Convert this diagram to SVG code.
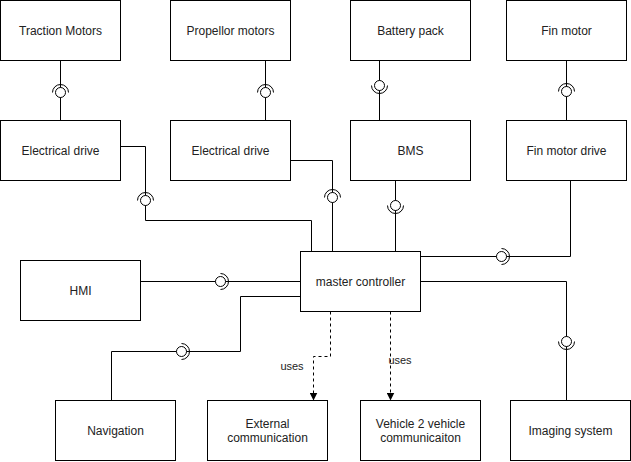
<svg xmlns="http://www.w3.org/2000/svg" width="631" height="462" viewBox="0 0 631 462">
<defs>
<style>
.box{fill:#fff;stroke:#000;stroke-width:1}
.t{font-family:"Liberation Sans",Arial,sans-serif;font-size:12px;fill:#222;text-anchor:middle}
.lbl{font-family:"Liberation Sans",Arial,sans-serif;font-size:11px;fill:#222;text-anchor:middle}
.ln{fill:none;stroke:#000;stroke-width:1}
.dash{fill:none;stroke:#000;stroke-width:1;stroke-dasharray:3 3}
.ball{fill:#fff;stroke:#000;stroke-width:1}
.sock{fill:none;stroke:#000;stroke-width:1}
</style>
<marker id="arr" viewBox="0 0 8 8" refX="8" refY="4" markerWidth="8" markerHeight="8" markerUnits="userSpaceOnUse" orient="auto">
<path d="M0,0 L8,4 L0,8 Z" fill="#000"/>
</marker>
</defs>
<rect width="631" height="462" fill="#fff"/>
<g id="connectors">
<!-- Traction -> ED1 -->
<path class="ln" d="M60.5,60.5 V120.5"/>
<path class="sock" d="M52.5,92.5 A8 8 0 0 1 68.5,92.5"/>
<circle class="ball" cx="60.5" cy="92.5" r="5"/>
<!-- Propellor -> ED2 -->
<path class="ln" d="M265.5,60.5 V120.5"/>
<path class="sock" d="M257.5,92.5 A8 8 0 0 1 273.5,92.5"/>
<circle class="ball" cx="265.5" cy="92.5" r="5"/>
<!-- Battery -> BMS -->
<path class="ln" d="M379.5,60.5 V120.5"/>
<path class="sock" d="M371.5,85.5 A8 8 0 0 0 387.5,85.5"/>
<circle class="ball" cx="379.5" cy="85.5" r="5"/>
<!-- Fin motor -> Fin drive -->
<path class="ln" d="M566.5,60.5 V120.5"/>
<path class="sock" d="M558.5,91.5 A8 8 0 0 1 574.5,91.5"/>
<circle class="ball" cx="566.5" cy="91.5" r="5"/>
<!-- ED1 -> master -->
<path class="ln" d="M120.5,146.5 H145.5 V220.5 H311.5 V251.5"/>
<path class="sock" d="M137.5,200.5 A8 8 0 0 1 153.5,200.5"/>
<circle class="ball" cx="145.5" cy="200.5" r="5"/>
<!-- ED2 -> master -->
<path class="ln" d="M290.5,160.5 H332.5 V251.5"/>
<path class="sock" d="M324.5,197.5 A8 8 0 0 1 340.5,197.5"/>
<circle class="ball" cx="332.5" cy="197.5" r="5"/>
<!-- BMS -> master -->
<path class="ln" d="M395.5,180.5 V251.5"/>
<path class="sock" d="M387.5,205.5 A8 8 0 0 0 403.5,205.5"/>
<circle class="ball" cx="395.5" cy="205.5" r="5"/>
<!-- Fin drive -> master -->
<path class="ln" d="M570.5,180.5 V256.5 H420.5"/>
<path class="sock" d="M501.5,248.5 A8 8 0 0 1 501.5,264.5"/>
<circle class="ball" cx="501.5" cy="256.5" r="5"/>
<!-- HMI -> master -->
<path class="ln" d="M140.5,281.5 H300.5"/>
<path class="sock" d="M220.5,273.5 A8 8 0 0 1 220.5,289.5"/>
<circle class="ball" cx="220.5" cy="281.5" r="5"/>
<!-- Navigation -> master -->
<path class="ln" d="M111.5,400.5 V351.5 H240.5 V296.5 H300.5"/>
<path class="sock" d="M181.5,343.5 A8 8 0 0 1 181.5,359.5"/>
<circle class="ball" cx="181.5" cy="351.5" r="5"/>
<!-- Imaging -> master -->
<path class="ln" d="M420.5,281.5 H566.5 V400.5"/>
<path class="sock" d="M558.5,341.5 A8 8 0 0 0 574.5,341.5"/>
<circle class="ball" cx="566.5" cy="341.5" r="5"/>
<!-- uses -->
<path class="dash" d="M330.5,311.5 V356.5 H313.5 V400.5" marker-end="url(#arr)"/>
<text class="lbl" x="292" y="370">uses</text>
<path class="dash" d="M390.5,311.5 V400.5" marker-end="url(#arr)"/>
<text class="lbl" x="400" y="364">uses</text>
</g>
<g id="traction-motors"><rect class="box" x="0.5" y="0.5" width="120" height="60"/><text class="t" x="60.5" y="35">Traction Motors</text></g>
<g id="propellor-motors"><rect class="box" x="170.5" y="0.5" width="120" height="60"/><text class="t" x="230.5" y="35">Propellor motors</text></g>
<g id="battery-pack"><rect class="box" x="350.5" y="0.5" width="120" height="60"/><text class="t" x="410.5" y="35">Battery pack</text></g>
<g id="fin-motor"><rect class="box" x="506.5" y="0.5" width="120" height="60"/><text class="t" x="566.5" y="35">Fin motor</text></g>
<g id="electrical-drive-1"><rect class="box" x="0.5" y="120.5" width="120" height="60"/><text class="t" x="60.5" y="155">Electrical drive</text></g>
<g id="electrical-drive-2"><rect class="box" x="170.5" y="120.5" width="120" height="60"/><text class="t" x="230.5" y="155">Electrical drive</text></g>
<g id="bms"><rect class="box" x="350.5" y="120.5" width="120" height="60"/><text class="t" x="410.5" y="155">BMS</text></g>
<g id="fin-motor-drive"><rect class="box" x="506.5" y="120.5" width="120" height="60"/><text class="t" x="566.5" y="155">Fin motor drive</text></g>
<g id="master-controller"><rect class="box" x="300.5" y="251.5" width="120" height="60"/><text class="t" x="360.5" y="286">master controller</text></g>
<g id="hmi"><rect class="box" x="20.5" y="260.5" width="120" height="60"/><text class="t" x="80.5" y="295">HMI</text></g>
<g id="navigation"><rect class="box" x="55.5" y="400.5" width="120" height="60"/><text class="t" x="115.5" y="435">Navigation</text></g>
<g id="external-communication"><rect class="box" x="207.5" y="400.5" width="120" height="60"/><text class="t" x="267.5" y="428">External</text><text class="t" x="267.5" y="442">communication</text></g>
<g id="v2v-communication"><rect class="box" x="360.5" y="400.5" width="120" height="60"/><text class="t" x="420.5" y="428">Vehicle 2 vehicle</text><text class="t" x="420.5" y="442">communicaiton</text></g>
<g id="imaging-system"><rect class="box" x="510.5" y="400.5" width="120" height="60"/><text class="t" x="570.5" y="435">Imaging system</text></g>
</svg>
